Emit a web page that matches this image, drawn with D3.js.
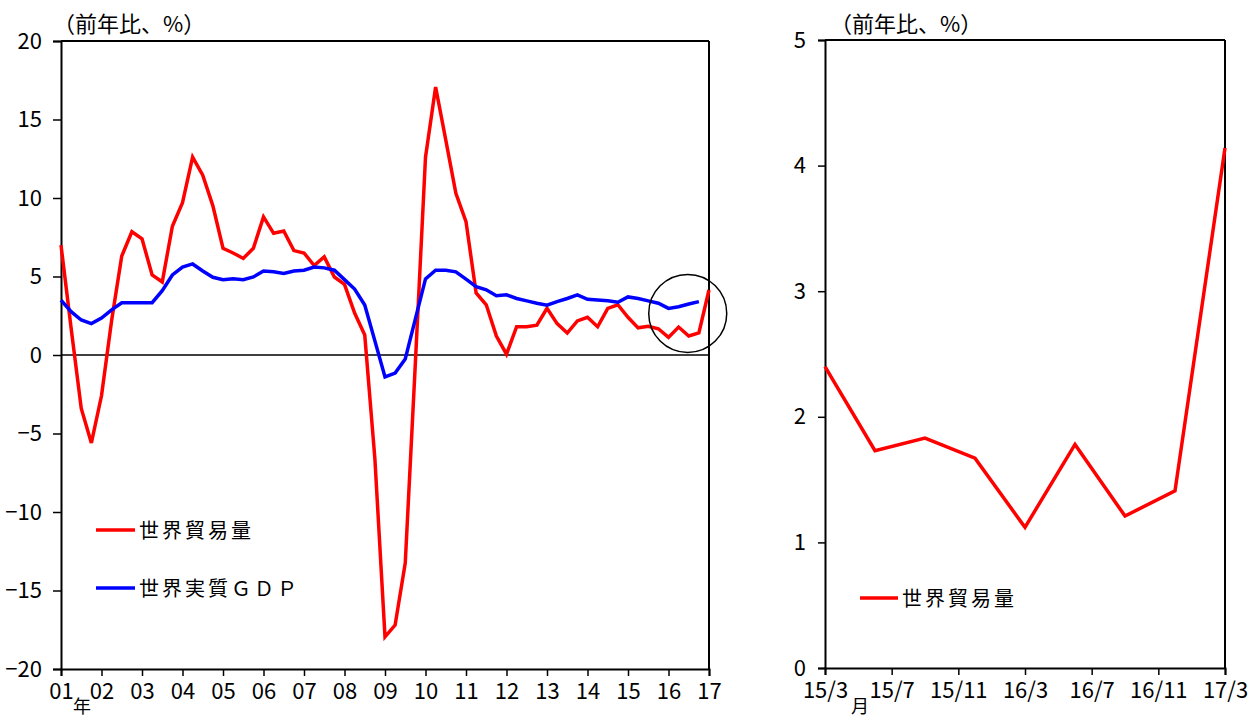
<!DOCTYPE html>
<html><head><meta charset="utf-8">
<script src="https://cdn.jsdelivr.net/npm/d3@7"></script>
<style>
html,body{margin:0;padding:0;background:#fff;}
svg{display:block;}
text{font-family:"Noto Sans CJK JP","Noto Sans",sans-serif;fill:#000;}
</style></head><body>
<svg id="chart" width="1251" height="717"></svg>
<script>
// ---- data ----
const yearLabels = ["01","02","03","04","05","06","07","08","09","10","11","12","13","14","15","16","17"];
// quarterly, 2001Q1 .. 2017Q1
const worldTrade = [7.0,1.7,-3.4,-5.6,-2.6,2.2,6.3,7.85,7.4,5.1,4.65,8.2,9.7,12.6,11.45,9.5,
  6.8,6.5,6.15,6.8,8.8,7.75,7.9,6.65,6.5,5.7,6.25,4.97,4.5,2.67,1.27,-6.6,
  -17.95,-17.2,-13.25,-0.5,12.6,17.07,13.7,10.3,8.5,3.95,3.2,1.2,0.05,1.8,1.8,1.9,
  2.97,2.0,1.4,2.17,2.4,1.8,2.97,3.2,2.4,1.73,1.83,1.67,1.12,1.78,1.21,1.41,4.14];
// quarterly, 2001Q1 .. 2016Q4
const worldGDP = [3.5,2.76,2.23,2.0,2.35,2.87,3.33,3.33,3.33,3.33,4.1,5.1,5.6,5.8,5.35,4.95,
  4.8,4.85,4.8,4.97,5.35,5.3,5.2,5.35,5.4,5.6,5.55,5.4,4.8,4.2,3.18,0.9,
  -1.4,-1.15,-0.25,2.3,4.85,5.4,5.4,5.3,4.83,4.35,4.15,3.77,3.83,3.6,3.45,3.3,
  3.17,3.4,3.6,3.83,3.55,3.5,3.45,3.36,3.7,3.6,3.45,3.3,2.97,3.07,3.25,3.4];
const leftYTicks = [-20,-15,-10,-5,0,5,10,15,20];
// right panel: months from 2015/3
const monthLabels = ["15/3","15/7","15/11","16/3","16/7","16/11","17/3"];
const recentMonths = [0,3,6,9,12,15,18,21,24];
const recentTrade = [2.4,1.73,1.83,1.67,1.12,1.78,1.21,1.41,4.14];
const rightYTicks = [0,1,2,3,4,5];
const unitLabel = "（前年比、%）";
const seriesNames = ["世界貿易量","世界実質ＧＤＰ"];
const colors = ["#ff0000","#0000ff"];

const svg = d3.select("#chart");
const tickFont = 22;

// ---- left panel ----
const L = {x0:61, x1:709, y0:669, y1:41};
const xL = d3.scaleLinear().domain([0,(yearLabels.length-1)*4]).range([L.x0,L.x1]);
const yL = d3.scaleLinear().domain([-20,20]).range([L.y0,L.y1]);

const gL = svg.append("g");
gL.append("line").attr("x1",L.x0).attr("x2",L.x1).attr("y1",L.y1).attr("y2",L.y1).attr("stroke","#000").attr("stroke-width",2);
gL.append("line").attr("x1",L.x1).attr("x2",L.x1).attr("y1",L.y1).attr("y2",L.y0).attr("stroke","#000").attr("stroke-width",2);
gL.append("line").attr("x1",L.x0).attr("x2",L.x1).attr("y1",yL(0)).attr("y2",yL(0)).attr("stroke","#000").attr("stroke-width",1.5);

const yAxisL = d3.axisLeft(yL).tickValues(leftYTicks).tickSize(8).tickPadding(11)
  .tickFormat(d => d<0 ? "\u2212"+Math.abs(d) : d);
const gyL = gL.append("g").attr("transform",`translate(${L.x0},0)`).call(yAxisL);
const xAxisL = d3.axisBottom(xL).tickValues(yearLabels.map((d,i)=>i*4)).tickSize(7).tickPadding(7)
  .tickFormat((d,i)=>yearLabels[i]);
const gxL = gL.append("g").attr("transform",`translate(0,${L.y0})`).call(xAxisL);
[gyL,gxL].forEach(g=>{
  g.select(".domain").attr("stroke","#000").attr("stroke-width",2);
  g.selectAll(".tick line").attr("stroke","#000").attr("stroke-width",1.5);
  g.selectAll(".tick text").attr("font-size",tickFont).attr("font-family","'Noto Sans CJK JP',sans-serif");
});

const lineL = d3.line().x((d,i)=>xL(i)).y(d=>yL(d));
gL.append("path").datum(worldTrade).attr("d",lineL).attr("fill","none").attr("stroke",colors[0]).attr("stroke-width",3.5);
gL.append("path").datum(worldGDP).attr("d",lineL).attr("fill","none").attr("stroke",colors[1]).attr("stroke-width",3.5);

gL.append("circle").attr("cx",xL(61.9)).attr("cy",yL(2.65)).attr("r",39).attr("fill","none").attr("stroke","#000").attr("stroke-width",1.5);

gL.append("text").attr("x",53).attr("y",32).attr("font-size",22).text(unitLabel);
gL.append("text").attr("x",82).attr("y",713).attr("text-anchor","middle").attr("font-size",18).text("年");

const legL = [[530,0],[588,1]];
legL.forEach(([y,k])=>{
  gL.append("line").attr("x1",96).attr("x2",135).attr("y1",y).attr("y2",y).attr("stroke",colors[k]).attr("stroke-width",3.5);
  gL.append("text").attr("x",139).attr("y",y+8).attr("font-size",20).attr("letter-spacing",3).text(seriesNames[k]);
});

// ---- right panel ----
const R = {x0:825, x1:1225, y0:668, y1:40};
const xR = d3.scaleLinear().domain([0,24]).range([R.x0,R.x1]);
const yR = d3.scaleLinear().domain([0,5]).range([R.y0,R.y1]);
const gR = svg.append("g");
gR.append("line").attr("x1",R.x0).attr("x2",R.x1).attr("y1",R.y1).attr("y2",R.y1).attr("stroke","#000").attr("stroke-width",2);
gR.append("line").attr("x1",R.x1).attr("x2",R.x1).attr("y1",R.y1).attr("y2",R.y0).attr("stroke","#000").attr("stroke-width",2);
const gyR = gR.append("g").attr("transform",`translate(${R.x0},0)`)
  .call(d3.axisLeft(yR).tickValues(rightYTicks).tickSize(7).tickPadding(12).tickFormat(d3.format("d")));
const gxR = gR.append("g").attr("transform",`translate(0,${R.y0})`)
  .call(d3.axisBottom(xR).tickValues(monthLabels.map((d,i)=>i*4)).tickSize(7).tickPadding(7).tickFormat((d,i)=>monthLabels[i]));
[gyR,gxR].forEach(g=>{
  g.select(".domain").attr("stroke","#000").attr("stroke-width",2);
  g.selectAll(".tick line").attr("stroke","#000").attr("stroke-width",1.5);
  g.selectAll(".tick text").attr("font-size",tickFont).attr("font-family","'Noto Sans CJK JP',sans-serif");
});
const lineR = d3.line().x((d,i)=>xR(recentMonths[i])).y(d=>yR(d));
gR.append("path").datum(recentTrade).attr("d",lineR).attr("fill","none").attr("stroke",colors[0]).attr("stroke-width",3.5);
gR.append("text").attr("x",830).attr("y",32).attr("font-size",22).text(unitLabel);
gR.append("text").attr("x",860).attr("y",713).attr("text-anchor","middle").attr("font-size",18).text("月");
gR.append("line").attr("x1",860).attr("x2",898).attr("y1",598).attr("y2",598).attr("stroke",colors[0]).attr("stroke-width",3.5);
gR.append("text").attr("x",902).attr("y",606).attr("font-size",20).attr("letter-spacing",3).text(seriesNames[0]);
</script>
</body></html>
